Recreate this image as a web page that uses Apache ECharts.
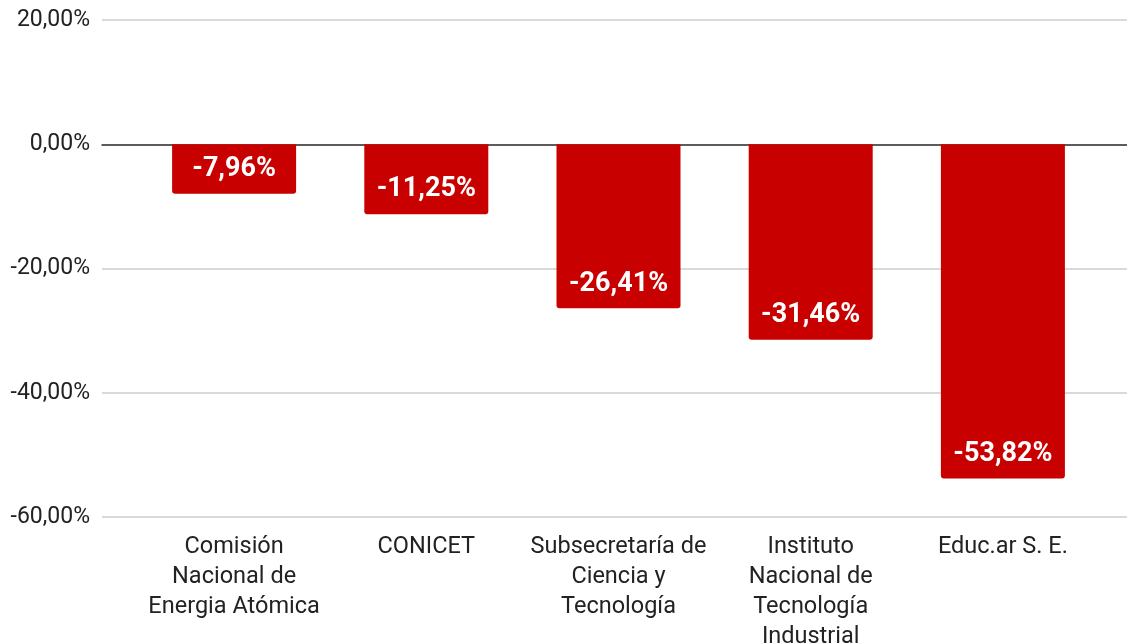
<!DOCTYPE html>
<html>
<head>
<meta charset="utf-8">
<script src="https://cdn.jsdelivr.net/npm/echarts@6/dist/echarts.min.js"></script>
<style>
  html, body { margin: 0; padding: 0; background: #fff; }
  #chart { width: 1127px; height: 644px; }
</style>
</head>
<body>
<div id="chart"></div>
<script>
// categories and values
const categories = [
  'Comisión\nNacional de\nEnergia Atómica',
  'CONICET',
  'Subsecretaría de\nCiencia y\nTecnología',
  'Instituto\nNacional de\nTecnología\nIndustrial',
  'Educ.ar S. E.'
];
const values = [-7.96, -11.25, -26.41, -31.46, -53.82];
const yTicks = { min: -60, max: 20, step: 20 };

const fmt = v => v.toFixed(2).replace('.', ',') + '%';

const myChart = echarts.init(document.getElementById('chart'));
const option = {
  animation: false,
  textStyle: { fontFamily: 'Roboto' },
  grid: [
    // full width grid: gridlines + y labels + zero line
    { left: 102, right: 0, top: 20, bottom: 127, outerBoundsMode: 'none' },
    // narrower grid where the bars live
    { left: 138, right: 28, top: 20, bottom: 127, outerBoundsMode: 'none' }
  ],
  xAxis: [
    {
      type: 'category',
      gridIndex: 0,
      data: categories,
      axisLine: { onZero: true, lineStyle: { color: '#333', width: 1.5 } },
      axisTick: { show: false },
      axisLabel: { show: false },
      splitLine: { show: false }
    },
    {
      type: 'category',
      gridIndex: 1,
      data: categories,
      axisLine: { show: false },
      axisTick: { show: false },
      axisLabel: {
        color: '#222',
        fontSize: 23.5,
        lineHeight: 30,
        margin: 15,
        interval: 0,
        align: 'center'
      }
    }
  ],
  yAxis: [
    {
      type: 'value',
      gridIndex: 0,
      min: yTicks.min,
      max: yTicks.max,
      interval: yTicks.step,
      axisLine: { show: false },
      axisTick: { show: false },
      axisLabel: { color: '#222', fontSize: 23, margin: 12, formatter: fmt },
      splitLine: { lineStyle: { color: '#cccccc', width: 1.5 } }
    },
    {
      type: 'value',
      gridIndex: 1,
      min: yTicks.min,
      max: yTicks.max,
      interval: yTicks.step,
      show: false,
      splitLine: { show: false }
    }
  ],
  series: [
    {
      type: 'bar',
      xAxisIndex: 1,
      yAxisIndex: 1,
      data: values,
      barWidth: 124,
      z: 3,
      itemStyle: { color: '#c80000', borderRadius: [0, 0, 3, 3] },
      label: {
        show: true,
        position: 'insideBottom',
        distance: 11,
        color: '#fff',
        fontSize: 27,
        fontWeight: 'bold',
        formatter: p => fmt(p.value)
      }
    }
  ]
};
myChart.setOption(option);
</script>
</body>
</html>
